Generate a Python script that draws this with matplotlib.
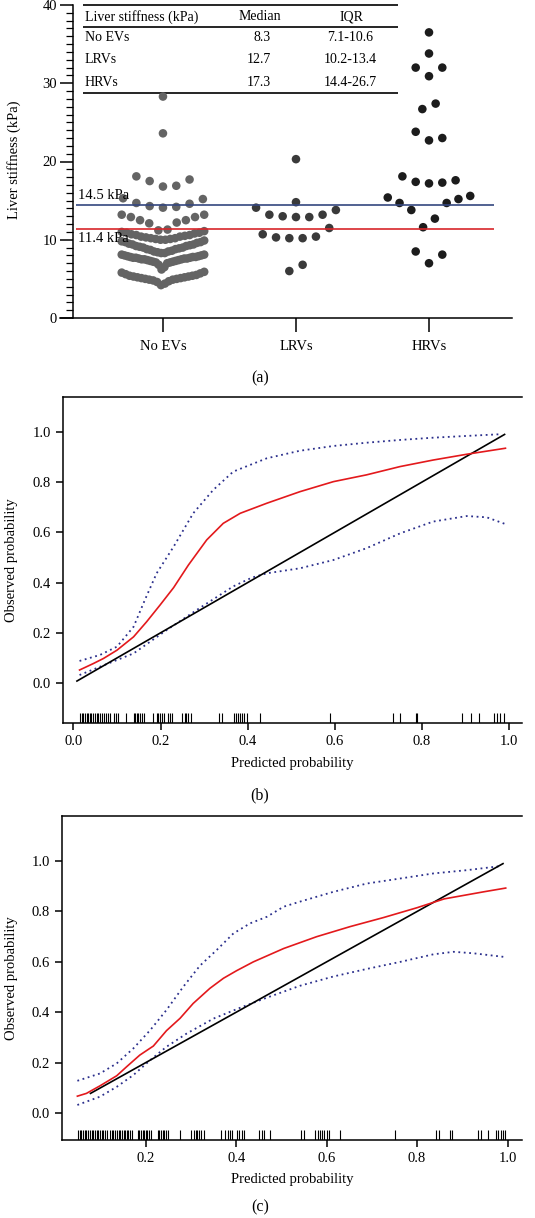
import numpy as np
import matplotlib.pyplot as plt
from matplotlib.ticker import MultipleLocator, FormatStrFormatter

plt.rcParams['font.family'] = ['Liberation Serif', 'DejaVu Serif']

W, H = 535, 1218

# ---- panel (a): liver stiffness by group ----
groups = ["No EVs", "LRVs", "HRVs"]

no_evs = [28.3, 23.6,
          18.1, 17.5, 16.8, 16.9, 17.7,
          15.2, 14.6, 14.2, 14.1, 14.3, 14.7, 15.3,
          13.2, 12.9, 12.5, 12.2, 12.1, 12.5, 12.9, 13.2, 11.2, 11.3,
          10.0, 10.0, 10.1, 10.1, 10.2, 10.2, 10.3, 10.4, 10.4, 10.5,
          10.6, 10.6, 10.7, 10.8, 10.9, 10.9, 11.0, 11.1,
          8.3, 8.3, 8.4, 8.5, 8.5, 8.6, 8.7, 8.8, 8.8, 8.9, 9.0, 9.0,
          9.1, 9.2, 9.2, 9.3, 9.4, 9.4, 9.5, 9.6, 9.7, 9.7, 9.8, 9.9,
          6.2, 6.5, 6.8, 7.0, 7.1, 7.1, 7.2, 7.2, 7.3, 7.3, 7.4, 7.4,
          7.5, 7.5, 7.5, 7.6, 7.6, 7.6, 7.7, 7.7, 7.7, 7.8, 7.8, 7.8,
          7.9, 7.9, 8.0, 8.0, 8.1, 8.1,
          4.2, 4.4, 4.6, 4.7, 4.8, 4.9, 4.9, 5.0, 5.0, 5.1, 5.1, 5.2,
          5.2, 5.3, 5.3, 5.4, 5.4, 5.5, 5.6, 5.7, 5.8, 5.9]
lrvs = [20.3, 14.8, 14.1, 13.8, 13.2, 13.0, 12.9, 12.9, 13.2,
        11.5, 10.3, 10.2, 10.2, 10.4, 10.7, 6.0, 6.8]
hrvs = [36.5, 33.8, 32.0, 32.0, 30.9, 27.4, 26.7, 23.8, 22.7, 23.0,
        17.6, 17.3, 17.2, 17.4, 18.1, 15.4, 14.7, 14.7, 15.2, 15.6,
        13.8, 12.7, 11.6, 8.5, 8.1, 7.0]

# row bins used to spread the dots sideways
rows_noev = [6.1, 8.2, 9.95, 11.15, 13.6, 16.0, 20.0, 26.0]
rows_lrv = [8.0, 12.0, 14.5, 16.0]
rows_hrv = [10.0, 16.2, 20.0, 25.0, 29.0, 33.0, 35.0]

cutoff_high = 14.5
cutoff_low = 11.4

table_names = ["No EVs", "LRVs", "HRVs"]
table_median = ["8.3", "12.7", "17.3"]
table_iqr = ["7.1-10.6", "10.2-13.4", "14.4-26.7"]

# ---- panel (b): calibration ----
rug_b = [0.015, 0.019, 0.023, 0.026, 0.030, 0.033, 0.037, 0.041, 0.046, 0.050,
         0.054, 0.057, 0.061, 0.065, 0.069, 0.075, 0.079, 0.083, 0.094, 0.098,
         0.103, 0.121, 0.139, 0.142, 0.145, 0.149, 0.153, 0.157, 0.161, 0.182,
         0.191, 0.195, 0.199, 0.203, 0.207, 0.218, 0.222, 0.226, 0.250, 0.255,
         0.259, 0.262, 0.271, 0.335, 0.341, 0.369, 0.374, 0.378, 0.383, 0.387,
         0.392, 0.398, 0.428, 0.590, 0.734, 0.751, 0.786, 0.789, 0.893, 0.914,
         0.932, 0.966, 0.973, 0.980, 0.989]
ideal_b = [0.008, 0.99]
b_red_x = [0.014, 0.046, 0.069, 0.100, 0.138, 0.168, 0.199, 0.230, 0.264, 0.306,
           0.344, 0.383, 0.444, 0.520, 0.597, 0.673, 0.750, 0.826, 0.903, 0.992]
b_red_y = [0.052, 0.078, 0.098, 0.131, 0.184, 0.244, 0.311, 0.380, 0.470, 0.570,
           0.636, 0.676, 0.716, 0.762, 0.802, 0.829, 0.862, 0.888, 0.911, 0.935]
b_up_x = [0.014, 0.061, 0.100, 0.138, 0.165, 0.191, 0.230, 0.275, 0.321, 0.367,
          0.444, 0.520, 0.597, 0.673, 0.750, 0.826, 0.903, 0.983]
b_up_y = [0.088, 0.112, 0.145, 0.224, 0.335, 0.437, 0.543, 0.676, 0.769, 0.842,
          0.895, 0.925, 0.944, 0.957, 0.968, 0.977, 0.984, 0.991]
b_lo_x = [0.014, 0.061, 0.138, 0.214, 0.291, 0.367, 0.410, 0.444, 0.520, 0.597,
          0.673, 0.750, 0.826, 0.903, 0.949, 0.992]
b_lo_y = [0.032, 0.065, 0.118, 0.211, 0.300, 0.385, 0.420, 0.437, 0.457, 0.490,
          0.537, 0.596, 0.643, 0.665, 0.660, 0.633]

# ---- panel (c): calibration ----
rug_c = [0.051, 0.055, 0.058, 0.062, 0.066, 0.069, 0.073, 0.077, 0.081, 0.084,
         0.088, 0.092, 0.095, 0.099, 0.103, 0.106, 0.110, 0.114, 0.121, 0.125,
         0.128, 0.132, 0.136, 0.140, 0.143, 0.147, 0.151, 0.154, 0.158, 0.162,
         0.165, 0.169, 0.182, 0.186, 0.190, 0.193, 0.197, 0.201, 0.204, 0.208,
         0.212, 0.227, 0.230, 0.234, 0.238, 0.241, 0.246, 0.250, 0.276, 0.300,
         0.307, 0.311, 0.314, 0.318, 0.322, 0.329, 0.366, 0.376, 0.381, 0.386,
         0.391, 0.402, 0.407, 0.414, 0.418, 0.451, 0.457, 0.461, 0.475, 0.544,
         0.549, 0.575, 0.580, 0.585, 0.589, 0.594, 0.600, 0.605, 0.630, 0.751,
         0.842, 0.849, 0.872, 0.877, 0.934, 0.942, 0.957, 0.974, 0.979, 0.985,
         0.990, 0.995]
ideal_c = [0.078, 0.99]
c_red_x = [0.049, 0.069, 0.099, 0.136, 0.158, 0.187, 0.217, 0.246, 0.276, 0.305,
           0.342, 0.372, 0.401, 0.438, 0.505, 0.578, 0.652, 0.726, 0.800, 0.860,
           0.947, 0.996]
c_red_y = [0.067, 0.078, 0.108, 0.148, 0.184, 0.230, 0.266, 0.327, 0.376, 0.435,
           0.495, 0.535, 0.565, 0.600, 0.653, 0.700, 0.740, 0.776, 0.815, 0.850,
           0.878, 0.893]
c_up_x = [0.049, 0.099, 0.136, 0.173, 0.210, 0.246, 0.283, 0.320, 0.357, 0.394,
          0.431, 0.468, 0.505, 0.541, 0.615, 0.689, 0.763, 0.836, 0.910, 0.984]
c_up_y = [0.128, 0.157, 0.197, 0.257, 0.329, 0.409, 0.501, 0.585, 0.647, 0.713,
          0.753, 0.779, 0.819, 0.839, 0.878, 0.911, 0.931, 0.951, 0.964, 0.980]
c_lo_x = [0.049, 0.099, 0.136, 0.173, 0.210, 0.246, 0.291, 0.350, 0.409, 0.468,
          0.541, 0.615, 0.689, 0.763, 0.836, 0.881, 0.925, 0.991]
c_lo_y = [0.032, 0.065, 0.104, 0.151, 0.210, 0.263, 0.316, 0.375, 0.418, 0.458,
          0.505, 0.542, 0.572, 0.600, 0.630, 0.640, 0.634, 0.620]

prob_ticks = [0.0, 0.2, 0.4, 0.6, 0.8, 1.0]

RED = "#e3191c"
NAVY = "#2b2f8c"


def px_axes(fig, left, top, right, bottom):
    return fig.add_axes([left / W, 1 - bottom / H,
                         (right - left) / W, (bottom - top) / H])


def swarm(values, edges, step, max_width):
    vals = np.asarray(values, dtype=float)
    offs = np.zeros(len(vals))
    rows = np.digitize(vals, edges)
    for r in np.unique(rows):
        idx = np.where(rows == r)[0]
        idx = idx[np.argsort(vals[idx], kind="stable")]
        n = len(idx)
        s = min(step, max_width / max(n - 1, 1))
        for k, i in enumerate(idx):
            if n % 2:
                slot = (k + 1) // 2 * (1 if k % 2 else -1)
            else:
                slot = (k // 2 + 0.5) * (-1 if k % 2 == 0 else 1)
            offs[i] = slot * s
    return offs


fig = plt.figure(figsize=(W / 100, H / 100), dpi=100)

# ---------- (a) ----------
ax = px_axes(fig, 60, 5, 512, 318)
ax.set_xlim(-0.774, 2.624)
ax.set_ylim(0, 40)
ax.spines["top"].set_visible(False)
ax.spines["right"].set_visible(False)
ax.spines["left"].set_position(("data", -0.677))
for sp in ("left", "bottom"):
    ax.spines[sp].set_linewidth(1.1)

ax.yaxis.set_major_locator(MultipleLocator(10))
ax.yaxis.set_minor_locator(MultipleLocator(1))
ax.tick_params(axis="y", which="major", length=9.5, width=1.1, labelsize=10.5, pad=2)
ax.tick_params(axis="y", which="minor", length=5, width=0.9)
ax.set_xticks(range(len(groups)))
ax.set_xticklabels(groups)
ax.tick_params(axis="x", length=10, width=1.1, labelsize=10.5, pad=6)

dot_colors = ["#646464", "#3a3a3a", "#1c1c1c"]
data_sets = [(no_evs, rows_noev), (lrvs, rows_lrv), (hrvs, rows_hrv)]
for i, ((vals, edges), col) in enumerate(zip(data_sets, dot_colors)):
    offs = swarm(vals, edges, 0.10, 0.62)
    ax.scatter(i + offs, vals, s=38, color=col, edgecolors="none",
               zorder=3, clip_on=False)

ax.hlines(cutoff_high, -0.65, 2.49, color="#34477f", lw=1.2, zorder=4)
ax.hlines(cutoff_low, -0.65, 2.49, color="#d8262a", lw=1.2, zorder=4)
ax.text(-0.64, cutoff_high + 0.3, f"{cutoff_high} kPa", fontsize=10.5,
        ha="left", va="bottom", zorder=5)
ax.text(-0.64, cutoff_low - 0.4, f"{cutoff_low} kPa", fontsize=10.5,
        ha="left", va="top", zorder=5)

# summary table drawn inside panel (a)
tx0, tx1 = -0.60, 1.77
ax.hlines([40, 37.2, 28.8], tx0, tx1, color="black", lw=1.2, clip_on=False)
ax.text(-0.586, 38.5, "Liver stiffness (kPa)", fontsize=10, va="center")
ax.text(0.729, 38.5, "Median", fontsize=10, va="center", ha="center")
ax.text(1.419, 38.5, "IQR", fontsize=10, va="center", ha="center")
for name, med, iqr, yy in zip(table_names, table_median, table_iqr, [35.9, 33.0, 30.1]):
    ax.text(-0.586, yy, name, fontsize=10, va="center")
    ax.text(0.812, yy, med, fontsize=10, va="center", ha="right")
    ax.text(1.406, yy, iqr, fontsize=10, va="center", ha="center")

fig.text(14 / W, 1 - 160 / H, "Liver stiffness (kPa)", rotation=90,
         fontsize=10.5, ha="center", va="center")
fig.text(260 / W, 1 - 378 / H, "(a)", fontsize=11.5, ha="center", va="center")


# ---------- (b), (c) ----------
def calib_panel(rect, xlim, ylim, xticks, rug, ideal, red, upper, lower,
                xlab_y, tag, tag_y):
    ax = px_axes(fig, *rect)
    ax.set_xlim(*xlim)
    ax.set_ylim(*ylim)
    ax.spines["right"].set_visible(False)
    for sp in ("left", "bottom", "top"):
        ax.spines[sp].set_linewidth(1.1)
    ax.set_xticks(xticks)
    ax.set_yticks(prob_ticks)
    ax.xaxis.set_major_formatter(FormatStrFormatter("%.1f"))
    ax.yaxis.set_major_formatter(FormatStrFormatter("%.1f"))
    ax.tick_params(length=5, width=1.1, labelsize=10.5)

    ax.plot(upper[0], upper[1], color=NAVY, lw=1.3, ls=(0, (1, 2)))
    ax.plot(lower[0], lower[1], color=NAVY, lw=1.3, ls=(0, (1, 2)))
    ax.plot(ideal, ideal, color="black", lw=1.2)
    ax.plot(red[0], red[1], color=RED, lw=1.2)
    ax.vlines(rug, 0, 0.03, color="black", lw=0.8,
              transform=ax.get_xaxis_transform())

    mid = (rect[1] + rect[3]) / 2
    fig.text(12 / W, 1 - mid / H, "Observed probability", rotation=90,
             fontsize=10.5, ha="center", va="center")
    fig.text(292 / W, 1 - xlab_y / H, "Predicted probability",
             fontsize=10.5, ha="center", va="center")
    fig.text(260 / W, 1 - tag_y / H, tag, fontsize=11.5, ha="center", va="center")
    return ax


calib_panel((63, 397, 522, 723), (-0.024, 1.030), (-0.159, 1.139), prob_ticks,
            rug_b, ideal_b, (b_red_x, b_red_y), (b_up_x, b_up_y), (b_lo_x, b_lo_y),
            763, "(b)", 795)
calib_panel((62, 816, 522, 1140), (0.015, 1.032), (-0.107, 1.179), prob_ticks[1:],
            rug_c, ideal_c, (c_red_x, c_red_y), (c_up_x, c_up_y), (c_lo_x, c_lo_y),
            1180, "(c)", 1207)

fig.savefig("out.png", dpi=100)
